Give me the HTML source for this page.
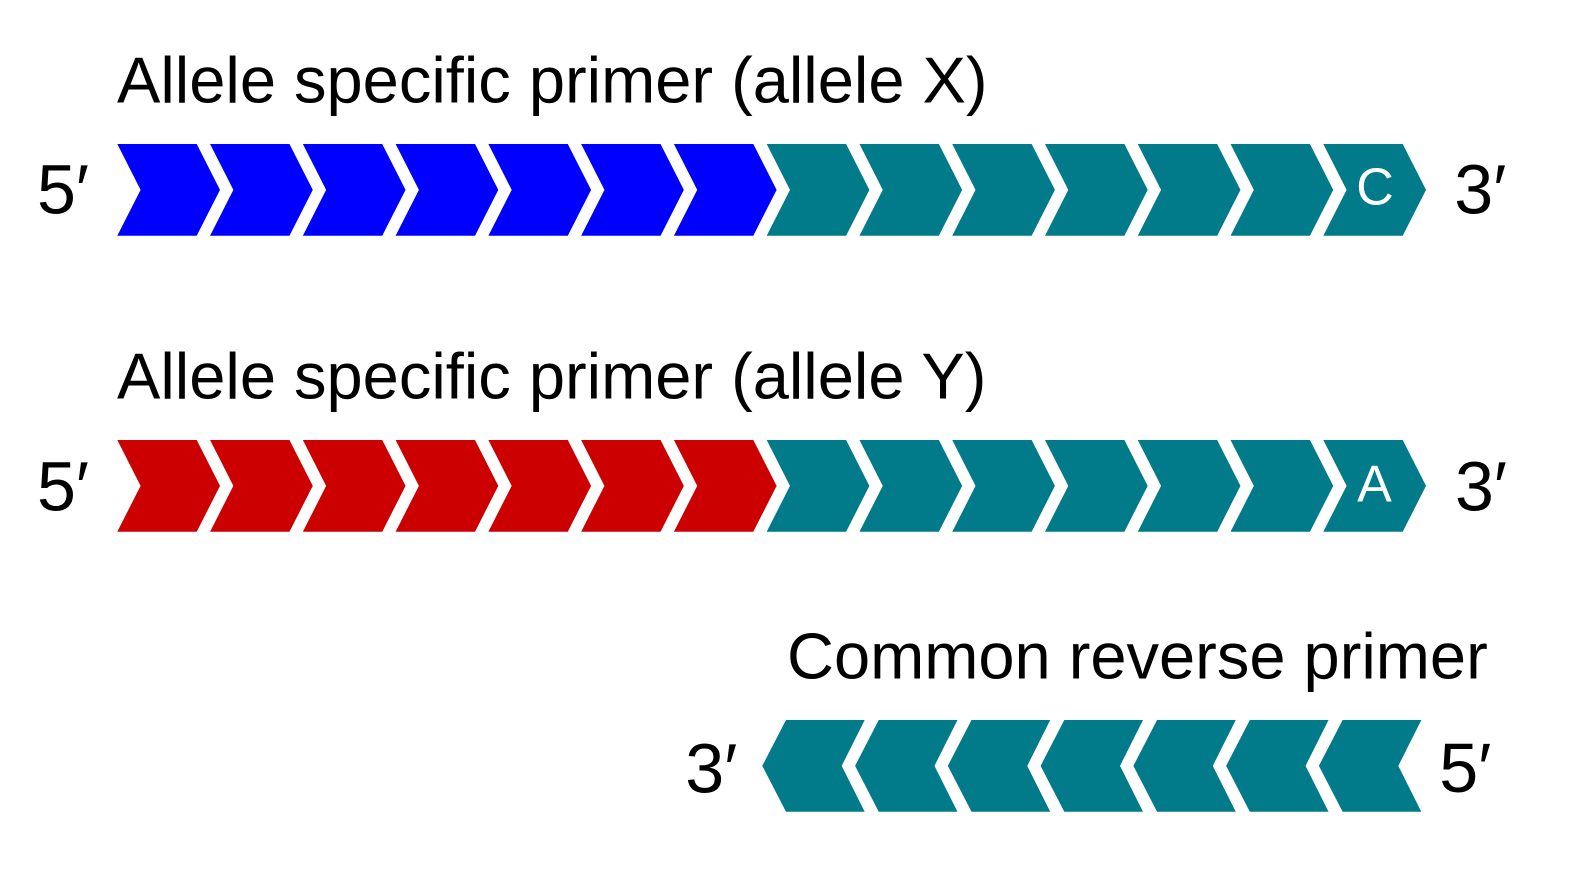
<!DOCTYPE html>
<html>
<head>
<meta charset="utf-8">
<style>
  html, body { margin: 0; padding: 0; background: #ffffff; }
  svg { display: block; }
  text { font-family: "Liberation Sans", Arial, sans-serif; }
</style>
</head>
<body>
<svg width="1588" height="880" viewBox="0 0 1588 880" xmlns="http://www.w3.org/2000/svg">
  <defs>
    <polygon id="rc" points="0,0 79.4,0 102.7,45.85 79.4,91.7 0,91.7 23.3,45.85"/>
    <polygon id="lc" points="0,45.85 23.7,0 102.4,0 79.4,45.85 102.4,91.7 23.7,91.7"/>
  </defs>
  <rect width="1588" height="880" fill="#ffffff"/>

  <!-- Row 1 title -->
  <text x="117" y="102.7" font-size="65" fill="#000">Allele specific primer (allele X)</text>
  <!-- Row 1 chevrons -->
  <g fill="#0000FF">
    <use href="#rc" x="117.3" y="144"/>
    <use href="#rc" x="210.07" y="144"/>
    <use href="#rc" x="302.84" y="144"/>
    <use href="#rc" x="395.61" y="144"/>
    <use href="#rc" x="488.38" y="144"/>
    <use href="#rc" x="581.15" y="144"/>
    <use href="#rc" x="673.92" y="144"/>
  </g>
  <g fill="#017A89">
    <use href="#rc" x="766.69" y="144"/>
    <use href="#rc" x="859.46" y="144"/>
    <use href="#rc" x="952.23" y="144"/>
    <use href="#rc" x="1045.0" y="144"/>
    <use href="#rc" x="1137.77" y="144"/>
    <use href="#rc" x="1230.54" y="144"/>
    <use href="#rc" x="1323.31" y="144"/>
  </g>
  <text x="1375" y="204.5" font-size="52" fill="#ffffff" text-anchor="middle">C</text>
  <text x="37" y="213.5" font-size="70" fill="#000">5′</text>
  <text x="1454.3" y="213.5" font-size="70" fill="#000">3′</text>

  <!-- Row 2 title -->
  <text x="117" y="398.7" font-size="65" fill="#000">Allele specific primer (allele Y)</text>
  <!-- Row 2 chevrons -->
  <g fill="#CC0000">
    <use href="#rc" x="117.3" y="440"/>
    <use href="#rc" x="210.07" y="440"/>
    <use href="#rc" x="302.84" y="440"/>
    <use href="#rc" x="395.61" y="440"/>
    <use href="#rc" x="488.38" y="440"/>
    <use href="#rc" x="581.15" y="440"/>
    <use href="#rc" x="673.92" y="440"/>
  </g>
  <g fill="#017A89">
    <use href="#rc" x="766.69" y="440"/>
    <use href="#rc" x="859.46" y="440"/>
    <use href="#rc" x="952.23" y="440"/>
    <use href="#rc" x="1045.0" y="440"/>
    <use href="#rc" x="1137.77" y="440"/>
    <use href="#rc" x="1230.54" y="440"/>
    <use href="#rc" x="1323.31" y="440"/>
  </g>
  <text x="1374.5" y="501.7" font-size="52" fill="#ffffff" text-anchor="middle">A</text>
  <text x="37" y="510.3" font-size="70" fill="#000">5′</text>
  <text x="1455" y="510.5" font-size="70" fill="#000">3′</text>

  <!-- Row 3 title -->
  <text x="787" y="678.3" font-size="65" fill="#000">Common reverse primer</text>
  <!-- Row 3 chevrons (reverse) -->
  <g fill="#017A89">
    <use href="#lc" x="762.3" y="720"/>
    <use href="#lc" x="855.07" y="720"/>
    <use href="#lc" x="947.84" y="720"/>
    <use href="#lc" x="1040.61" y="720"/>
    <use href="#lc" x="1133.38" y="720"/>
    <use href="#lc" x="1226.15" y="720"/>
    <use href="#lc" x="1318.92" y="720"/>
  </g>
  <text x="685.3" y="792.5" font-size="70" fill="#000">3′</text>
  <text x="1439.3" y="791.8" font-size="70" fill="#000">5′</text>
</svg>
</body>
</html>
